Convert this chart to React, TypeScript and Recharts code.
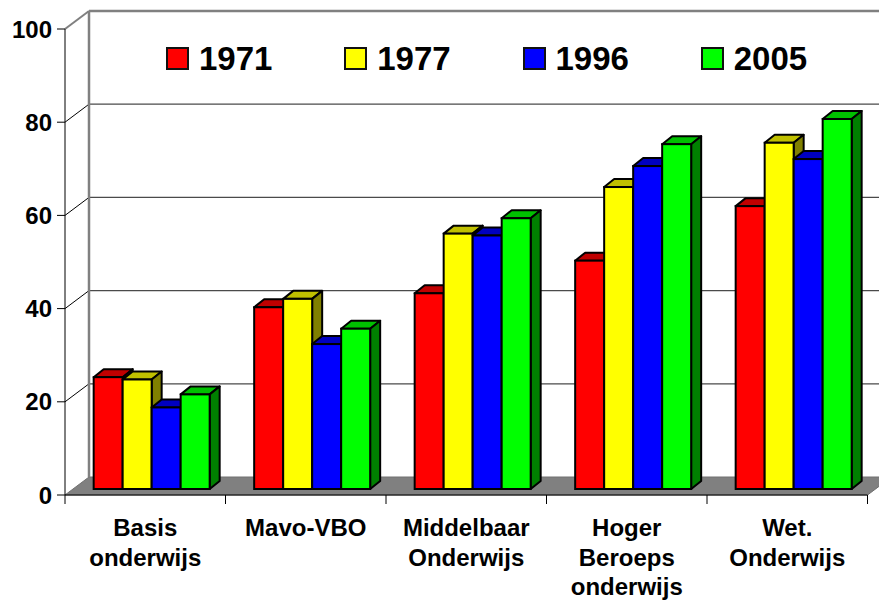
import React from 'react';
import { BarChart, Bar, XAxis, YAxis, CartesianGrid, Legend } from 'recharts';

const categories = [
  'Basis\nonderwijs',
  'Mavo-VBO',
  'Middelbaar\nOnderwijs',
  'Hoger\nBeroeps\nonderwijs',
  'Wet.\nOnderwijs',
];
const v1971 = [24, 39, 42, 49, 60.7];
const v1977 = [23.5, 40.8, 54.8, 64.8, 74.3];
const v1996 = [17.5, 31.1, 54.4, 69.3, 70.8];
const v2005 = [20.3, 34.4, 58.1, 74, 79.4];
const seriesNames = ['1971', '1977', '1996', '2005'];
const yTicks = [0, 20, 40, 60, 80, 100];

const data = categories.map((c, i) => ({
  name: c,
  s1971: v1971[i],
  s1977: v1977[i],
  s1996: v1996[i],
  s2005: v2005[i],
}));

const series = [
  { key: 's1971', name: seriesNames[0], front: '#FF0000', top: '#C00000', side: '#800000' },
  { key: 's1977', name: seriesNames[1], front: '#FFFF00', top: '#C0C000', side: '#808000' },
  { key: 's1996', name: seriesNames[2], front: '#0000FF', top: '#0000C0', side: '#000080' },
  { key: 's2005', name: seriesNames[3], front: '#00FF00', top: '#00C000', side: '#008000' },
];

const FONT = "'Liberation Sans', Arial, Helvetica, sans-serif";
const WALL_DX = 24;
const WALL_DY = 18;
const BAR_SHIFT_X = 7;
const BAR_SHIFT_Y = 6;
const BAR_DX = 10;
const BAR_DY = 8;

const make3DBar = (topColor: string, sideColor: string) => (props: any) => {
  const { x, y, width, height, fill } = props;
  if (!height || height <= 0) return <g />;
  const fx = x + BAR_SHIFT_X;
  const fy = y - BAR_SHIFT_Y;
  const topPts = `${fx},${fy} ${fx + width},${fy} ${fx + width + BAR_DX},${fy - BAR_DY} ${fx + BAR_DX},${fy - BAR_DY}`;
  const sidePts = `${fx + width},${fy} ${fx + width + BAR_DX},${fy - BAR_DY} ${fx + width + BAR_DX},${fy + height - BAR_DY} ${fx + width},${fy + height}`;
  return (
    <g>
      <polygon points={topPts} fill={topColor} stroke="#000" strokeWidth={2} strokeLinejoin="round" />
      <polygon points={sidePts} fill={sideColor} stroke="#000" strokeWidth={2} strokeLinejoin="round" />
      <rect x={fx} y={fy} width={width} height={height} fill={fill} stroke="#000" strokeWidth={2} />
    </g>
  );
};

const renderHLine = (p: any) => {
  const { x1, y1, x2, index } = p;
  const value = yTicks[index];
  const bx1 = x1 + WALL_DX;
  const bx2 = x2 + WALL_DX;
  const by = y1 - WALL_DY;
  if (value === 0) {
    return (
      <g key={`h-${index}`}>
        <polygon points={`${x1},${y1} ${x2},${y1} ${bx2},${by} ${bx1},${by}`} fill="#808080" stroke="#707070" strokeWidth={1} />
      </g>
    );
  }
  const isTop = value === 100;
  return (
    <g key={`h-${index}`}>
      <line x1={x1} y1={y1} x2={bx1} y2={by} stroke={isTop ? '#808080' : '#000'} strokeWidth={isTop ? 2 : 1} />
      <line x1={bx1} y1={by} x2={bx2} y2={by} stroke={isTop ? '#808080' : '#4a4a4a'} strokeWidth={isTop ? 2.5 : 1.2} />
    </g>
  );
};

const renderVLine = (p: any) => {
  const { x1, y1, y2, index } = p;
  return (
    <line key={`v-${index}`} x1={x1 + WALL_DX} y1={y1 - WALL_DY} x2={x1 + WALL_DX} y2={y2 - WALL_DY} stroke="#808080" strokeWidth={2.5} />
  );
};

const XTick = (props: any) => {
  const { x, y, payload, index, visibleTicksCount, width } = props;
  const bw = payload && payload.offset ? payload.offset * 2 : width / visibleTicksCount;
  const lines = String(payload.value).split('\n');
  const left = x - bw / 2;
  const right = x + bw / 2;
  return (
    <g>
      <line x1={left} y1={y} x2={left} y2={y + 9} stroke="#000" strokeWidth={1} />
      {index === visibleTicksCount - 1 && (
        <line x1={right} y1={y} x2={right} y2={y + 9} stroke="#000" strokeWidth={1} />
      )}
      <text x={x} y={y + 41} textAnchor="middle" fontFamily={FONT} fontWeight="bold" fontSize={24} fill="#000">
        {lines.map((l, i) => (
          <tspan key={i} x={x} dy={i === 0 ? 0 : 29.5}>
            {l}
          </tspan>
        ))}
      </text>
    </g>
  );
};

const LegendContent = (props: any) => {
  const payload = props.payload || [];
  return (
    <div style={{ display: 'flex', paddingLeft: 166, alignItems: 'center' }}>
      {payload.map((p: any) => (
        <div key={p.value} style={{ width: 184, display: 'flex', alignItems: 'center' }}>
          <span
            style={{
              display: 'inline-block',
              boxSizing: 'border-box',
              width: 23,
              height: 23,
              background: p.color,
              border: '2px solid #111',
            }}
          />
          <span style={{ marginLeft: 10, fontFamily: FONT, fontWeight: 'bold', fontSize: 33, lineHeight: '33px', color: '#000' }}>
            {p.value}
          </span>
        </div>
      ))}
    </div>
  );
};

export default function App() {
  return (
    <div style={{ position: 'absolute', left: 0, top: 0, width: 879, height: 601, background: '#fff' }}>
      <BarChart
        width={879}
        height={601}
        data={data}
        margin={{ top: 29, right: 11.5, bottom: 0, left: 0 }}
        barCategoryGap="13.5%"
        barGap={0}
      >
        <CartesianGrid
          horizontal={renderHLine}
          vertical={renderVLine}
          horizontalCoordinatesGenerator={({ yAxis, offset }: any) =>
            yTicks.map((v) =>
              yAxis && typeof yAxis.scale === 'function'
                ? yAxis.scale(v)
                : offset.top + offset.height * (1 - v / 100)
            )
          }
          verticalCoordinatesGenerator={({ offset }: any) => [offset.left]}
        />
        <XAxis
          dataKey="name"
          height={106}
          tickLine={false}
          tickSize={0}
          tickMargin={0}
          axisLine={{ stroke: '#000', strokeWidth: 1 }}
          tick={<XTick />}
          interval={0}
        />
        <YAxis
          width={65}
          domain={[0, 100]}
          ticks={yTicks}
          tickSize={8}
          tickMargin={5}
          axisLine={{ stroke: '#000', strokeWidth: 1 }}
          tickLine={{ stroke: '#000', strokeWidth: 1 }}
          tick={{ fontFamily: FONT, fontWeight: 'bold', fontSize: 24, fill: '#000' }}
          interval={0}
        />
        <Legend
          verticalAlign="middle"
          layout="horizontal"
          content={<LegendContent />}
          wrapperStyle={{ top: 42, left: 0, width: 879 }}
        />
        {series.map((s) => (
          <Bar
            key={s.key}
            dataKey={s.key}
            name={s.name}
            fill={s.front}
            isAnimationActive={false}
            shape={make3DBar(s.top, s.side)}
          />
        ))}
      </BarChart>
    </div>
  );
}
